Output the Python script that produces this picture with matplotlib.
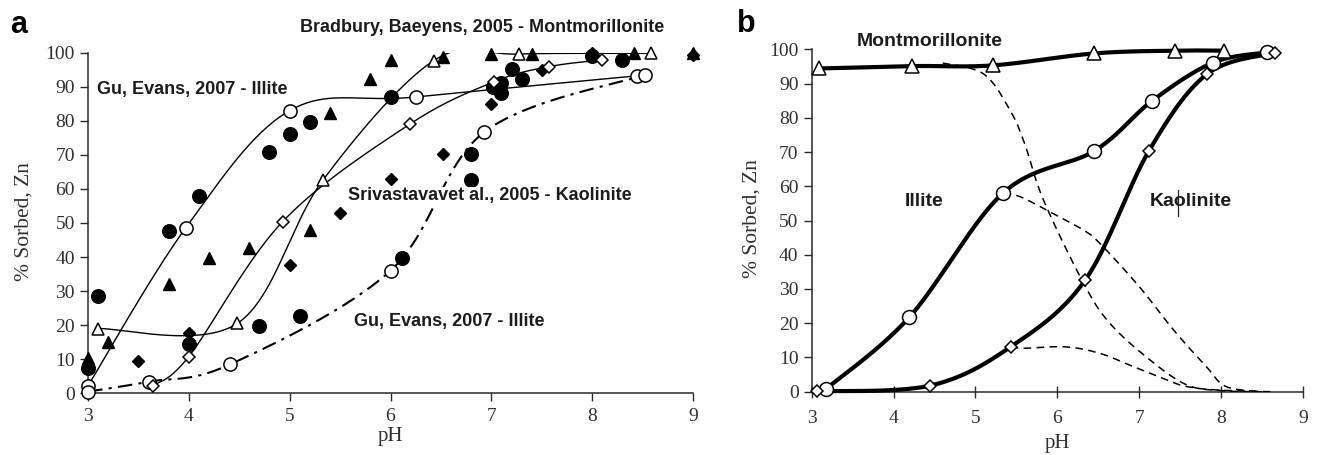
import numpy as np
import matplotlib
matplotlib.use("Agg")
import matplotlib.pyplot as plt
from matplotlib.lines import Line2D

# ---------------- panel a: literature data ----------------
# Gu & Evans 2007, illite: smoothed fit (open circles, solid line)
gu_fit_ph = [3.0, 3.97, 5.0, 6.25, 8.44]
gu_fit_val = [2.2, 48.6, 83.0, 87.0, 93.2]
# Gu & Evans 2007, illite: second set (open circles, dash-dot line)
gu_dd_ph = [3.0, 3.6, 4.41, 6.0, 6.93, 8.52]
gu_dd_val = [0.5, 3.4, 8.5, 36.0, 76.7, 93.5]
# Bradbury & Baeyens 2005, montmorillonite: fit (open triangles)
bb_fit_ph = [3.1, 4.48, 5.33, 6.43, 7.27, 8.58]
bb_fit_val = [19.0, 20.5, 62.6, 97.7, 99.6, 99.8]
# Srivastava et al. 2005, kaolinite: fit (open diamonds)
sr_fit_ph = [3.64, 4.0, 4.93, 6.19, 7.03, 7.57, 8.1]
sr_fit_val = [2.2, 10.8, 50.4, 79.0, 91.5, 95.9, 97.9]

# measured points (filled symbols)
bb_obs_ph = [3.0, 3.2, 3.8, 4.2, 4.6, 5.2, 5.4, 5.8, 6.0, 6.52, 7.0, 7.4, 8.41, 9.0]
bb_obs_val = [10.3, 15.2, 32.0, 39.6, 42.6, 48.0, 82.2, 92.2, 98.0, 98.6, 99.6, 99.6, 100.0, 100.0]
gu_obs_ph = [3.0, 3.1, 3.8, 4.0, 4.1, 4.7, 4.8, 5.0, 5.1, 5.2, 6.0, 6.11, 6.8, 6.8,
             7.02, 7.1, 7.1, 7.2, 7.3, 8.0, 8.3]
gu_obs_val = [7.5, 28.6, 47.7, 14.5, 57.9, 19.8, 70.9, 76.0, 22.7, 79.7, 86.9, 39.6, 62.6, 70.3,
              90.0, 91.0, 88.3, 95.1, 92.2, 99.0, 98.0]
sr_obs_ph = [3.5, 4.0, 5.0, 5.5, 6.0, 6.52, 7.0, 7.5, 8.0, 9.0]
sr_obs_val = [9.6, 17.8, 37.7, 52.8, 62.9, 70.2, 85.0, 94.9, 99.8, 99.3]

# ---------------- panel b: model curves ----------------
mont_ph = [3.09, 4.23, 5.21, 6.45, 7.44, 8.03]
mont_val = [94.4, 95.1, 95.3, 98.8, 99.6, 99.6]
illite_ph = [3.17, 4.19, 5.34, 6.45, 7.16, 7.90, 8.56]
illite_val = [0.7, 21.7, 58.1, 70.3, 85.0, 96.1, 99.1]
kaol_ph = [3.07, 4.45, 5.43, 6.34, 7.12, 7.83, 8.66]
kaol_val = [0.1, 1.8, 13.1, 32.6, 70.4, 92.8, 99.0]

# dashed component curves
mont_part_ph = [4.6, 5.1, 5.42, 5.6, 5.83, 6.32, 6.64, 7.13, 7.58, 8.0, 8.5]
mont_part_val = [96.0, 92.8, 82.3, 72.5, 56.0, 31.7, 20.0, 9.3, 2.0, 0.3, 0.0]
illite_part_ph = [5.34, 5.54, 5.95, 6.32, 6.52, 7.0, 7.42, 7.82, 8.06, 8.5]
illite_part_val = [57.5, 57.0, 52.0, 47.2, 43.3, 30.7, 18.0, 7.3, 1.5, 0.0]
kaol_part_ph = [5.43, 5.6, 6.1, 6.52, 6.93, 7.34, 7.58, 7.95, 8.6]
kaol_part_val = [13.1, 12.7, 13.1, 11.2, 7.3, 3.4, 1.5, 0.5, 0.0]

x_ticks = [3, 4, 5, 6, 7, 8, 9]
y_ticks = [0, 10, 20, 30, 40, 50, 60, 70, 80, 90, 100]

SERIF = "Liberation Serif"
SANS = "Liberation Sans"
INK = "#1c1c1c"
TICK_INK = "#303030"

W, H = 1320, 455
fig = plt.figure(figsize=(W / 100, H / 100), dpi=100)


def smooth_line(ax, xs, ys, steps=40):
    """Bezier smoothing through the points, computed in display space."""
    pts = ax.transData.transform(np.column_stack([xs, ys]))
    n = len(pts)
    out = []
    t = np.linspace(0, 1, steps)[:, None]
    for i in range(n - 1):
        p0 = pts[i]
        p1 = pts[i + 1]
        pm = pts[i - 1] if i > 0 else pts[i]
        pp = pts[i + 2] if i + 2 < n else pts[i + 1]
        c1 = p0 + (p1 - pm) / 6.0
        c2 = p1 - (pp - p0) / 6.0
        seg = ((1 - t) ** 3) * p0 + 3 * ((1 - t) ** 2) * t * c1 + 3 * (1 - t) * t ** 2 * c2 + t ** 3 * p1
        out.append(seg if i == 0 else seg[1:])
    curve = ax.transData.inverted().transform(np.vstack(out))
    return curve[:, 0], curve[:, 1]


def style_axes(ax, xdir, xpad):
    ax.set_xlim(3, 9)
    ax.set_ylim(0, 100)
    ax.set_xticks(x_ticks)
    ax.set_yticks(y_ticks)
    for s in ("top", "right"):
        ax.spines[s].set_visible(False)
    for s in ("left", "bottom"):
        ax.spines[s].set_linewidth(1.1)
        ax.spines[s].set_color("#2a2a2a")
    ax.tick_params(axis="y", direction="out", length=5.5, width=1.0, color="#2a2a2a",
                   pad=4, labelsize=14, labelcolor=TICK_INK)
    ax.tick_params(axis="x", direction=xdir, length=5.5 if xdir == "out" else 9,
                   width=1.0, color="#2a2a2a", pad=xpad, labelsize=14, labelcolor=TICK_INK)
    for lab in ax.get_xticklabels() + ax.get_yticklabels():
        lab.set_fontfamily(SERIF)
    ax.set_xlabel("pH", fontsize=15, fontfamily=SERIF, color=TICK_INK, va="baseline")
    ax.set_ylabel("% Sorbed, Zn", fontsize=15.5, fontfamily=SERIF, color=TICK_INK, va="center")


# ======================= panel a =======================
ax = fig.add_axes([88 / W, 1 - 393.3 / H, (693 - 88) / W, (393.3 - 52.7) / H])
style_axes(ax, "out", 5)
ax.xaxis.set_label_coords(0.5, -0.139)
ax.yaxis.set_label_coords(-0.105, 0.503)

open_kw = dict(markerfacecolor="white", markeredgecolor="black", markeredgewidth=1.1,
               linestyle="none", clip_on=False, zorder=5)
fill_kw = dict(color="black", linestyle="none", clip_on=False, zorder=4)

sx, sy = smooth_line(ax, gu_fit_ph, gu_fit_val)
ax.plot(sx, sy, color="black", lw=1.0, zorder=3)
sx, sy = smooth_line(ax, bb_fit_ph, bb_fit_val)
ax.plot(sx, sy, color="black", lw=1.0, zorder=3)
sx, sy = smooth_line(ax, sr_fit_ph, sr_fit_val)
ax.plot(sx, sy, color="black", lw=1.0, zorder=3)
sx, sy = smooth_line(ax, gu_dd_ph, gu_dd_val)
ax.plot(sx, sy, color="black", lw=1.5, dashes=(7, 3, 1.5, 3), zorder=3)

ax.plot(gu_obs_ph, gu_obs_val, marker="o", markersize=9.8, **fill_kw)
ax.plot(bb_obs_ph, bb_obs_val, marker="^", markersize=8.5, **fill_kw)
ax.plot(sr_obs_ph, sr_obs_val, marker="D", markersize=6.2, **fill_kw)

ax.plot(gu_fit_ph, gu_fit_val, marker="o", markersize=9.5, **open_kw)
ax.plot(gu_dd_ph, gu_dd_val, marker="o", markersize=9.5, **open_kw)
ax.plot(bb_fit_ph, bb_fit_val, marker="^", markersize=8.5, **open_kw)
ax.plot(sr_fit_ph, sr_fit_val, marker="D", markersize=6.2, **open_kw)

lab_kw = dict(fontfamily=SANS, fontweight="bold", color=INK, va="center", ha="left", fontsize=13)
ax.text(5.10, 107.3, "Bradbury, Baeyens, 2005 - Montmorillonite", **lab_kw)
ax.text(3.086, 89.3, "Gu, Evans, 2007 - Illite", **lab_kw)
ax.text(5.58, 58.0, "Srivastavavet al., 2005 - Kaolinite", zorder=6,
        bbox=dict(facecolor="white", edgecolor="none", pad=0.5), **lab_kw)
ax.text(5.64, 21.0, "Gu, Evans, 2007 - Illite", **lab_kw)

# ======================= panel b =======================
bx = fig.add_axes([811.7 / W, 1 - 391.7 / H, (1303 - 811.7) / W, (391.7 - 49.3) / H])
style_axes(bx, "inout", 9)
bx.xaxis.set_label_coords(0.5, -0.164)
bx.yaxis.set_label_coords(-0.1215, 0.507)

for px, pv in ((mont_part_ph, mont_part_val), (illite_part_ph, illite_part_val),
               (kaol_part_ph, kaol_part_val)):
    sx, sy = smooth_line(bx, px, pv)
    bx.plot(sx, sy, color="black", lw=1.1, dashes=(5, 3.5), zorder=3)

for px, pv in ((mont_ph, mont_val), (illite_ph, illite_val), (kaol_ph, kaol_val)):
    sx, sy = smooth_line(bx, px, pv)
    bx.plot(sx, sy, color="black", lw=3.0, solid_capstyle="round", zorder=4, clip_on=False)

bopen = dict(markerfacecolor="white", markeredgecolor="black", markeredgewidth=1.1,
             linestyle="none", clip_on=False, zorder=6)
bx.plot(mont_ph, mont_val, marker="^", markersize=10, **bopen)
bx.plot(illite_ph, illite_val, marker="o", markersize=10, **bopen)
bx.plot(kaol_ph, kaol_val, marker="D", markersize=6.5, **bopen)

blab = dict(fontfamily=SANS, fontweight="bold", color=INK, va="center", ha="left", fontsize=14)
bx.text(3.55, 102.2, "Montmorillonite", **blab)
bx.text(4.14, 55.5, "Illite", **blab)
bx.text(7.13, 55.5, "Kaolinite", **blab)
bx.add_line(Line2D([7.47, 7.47], [51.3, 58.9], color="#222222", lw=0.9))

# panel letters
fig.text(10 / W, 1 - 33 / H, "a", fontfamily=SANS, fontweight="bold", fontsize=22,
         color="black", va="baseline", ha="left")
fig.text(737 / W, 1 - 32 / H, "b", fontfamily=SANS, fontweight="bold", fontsize=22,
         color="black", va="baseline", ha="left")

fig.savefig("out.png", dpi=100, facecolor="white")
